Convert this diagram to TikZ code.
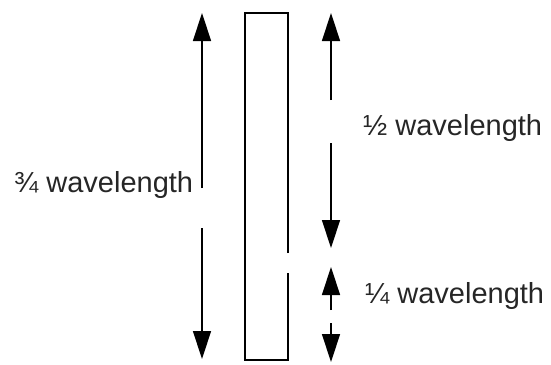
\documentclass[tikz,border=0pt]{standalone}
\usepackage{fontspec}
\setmainfont{Liberation Sans}
\usetikzlibrary{positioning, arrows.meta}

\begin{document}
\begin{tikzpicture}[x=1pt, y=-1pt, >={Triangle[length=28pt,width=18pt]},
    measure/.style={->, line width=1.4pt},
    wavetext/.style={inner sep=0pt, anchor=base west, text=black!85,
      font=\fontsize{29}{32}\selectfont}]
    \useasboundingbox (0,0) rectangle (551,364);

    % Plate, open on the right side
    \draw[line width=1.6pt] (288,253) -- (288,13) -- (245,13) -- (245,360) -- (288,360) -- (288,273);

    % Labels
    \node[wavetext] (threeq) at (14,192) {¾ wavelength};
    \node[wavetext] (half) at (363,135) {½ wavelength};
    \node[wavetext] (quarter) at (365,303) {¼ wavelength};

    % Three quarter wavelength
    \coordinate (tq-top) at (202,13);
    \coordinate (tq-bot) at (202,359);
    \coordinate (tq-a) at (202,188);
    \coordinate (tq-b) at (202,228);
    \draw[measure] (tq-a) -- (tq-top);
    \draw[measure] (tq-b) -- (tq-bot);

    % Half wavelength
    \coordinate (h-top) at (331,13);
    \coordinate (h-bot) at (331,248);
    \coordinate (h-a) at (331,100);
    \coordinate (h-b) at (331,143);
    \draw[measure] (h-a) -- (h-top);
    \draw[measure] (h-b) -- (h-bot);

    % Quarter wavelength
    \coordinate (q-top) at (331,267);
    \coordinate (q-bot) at (331,362);
    \coordinate (q-a) at (331,310);
    \coordinate (q-b) at (331,323);
    \draw[measure] (q-a) -- (q-top);
    \draw[measure] (q-b) -- (q-bot);
\end{tikzpicture}
\end{document}
